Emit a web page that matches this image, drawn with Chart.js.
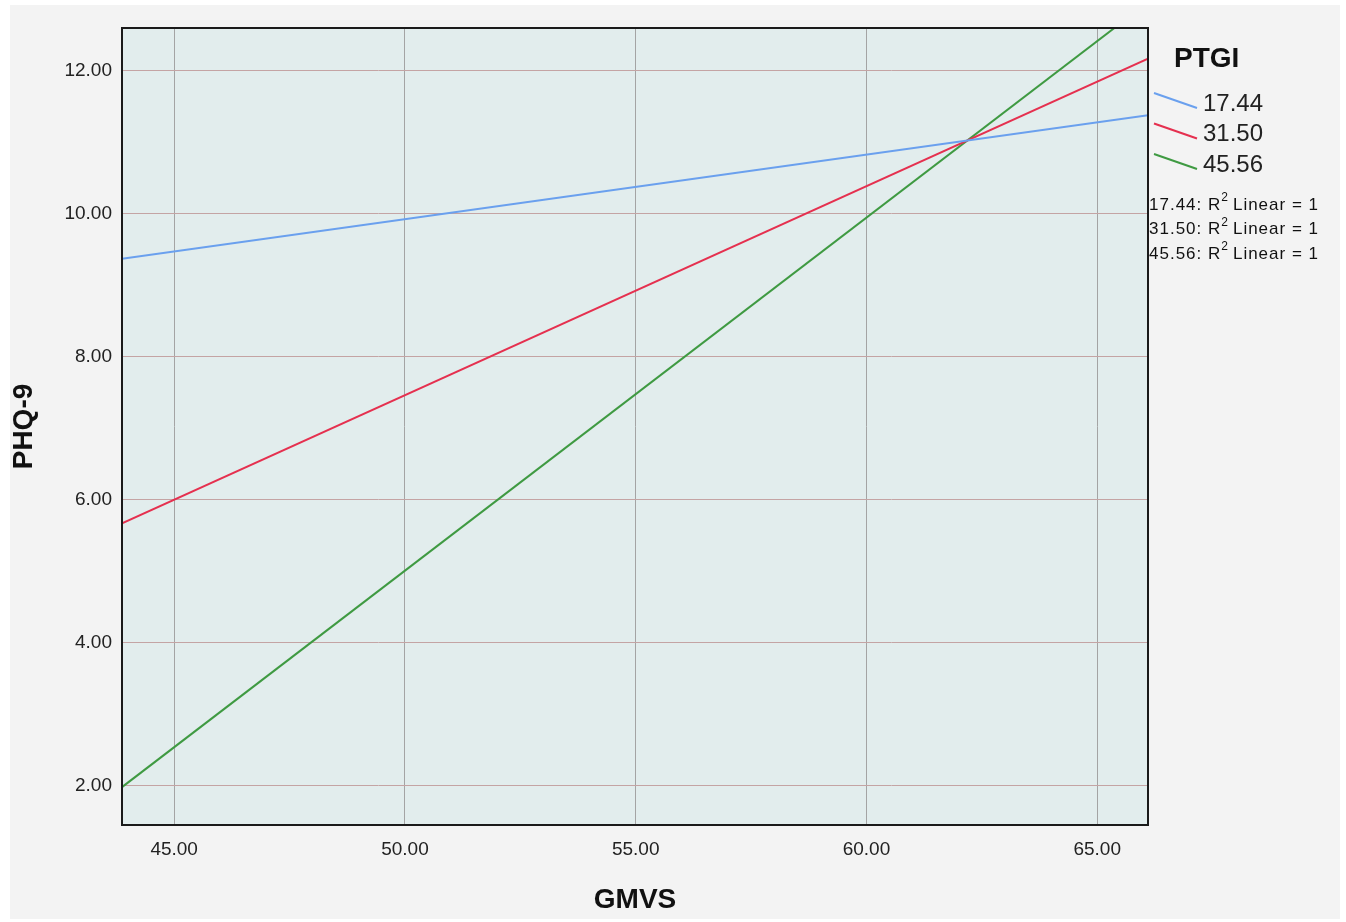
<!DOCTYPE html>
<html>
<head>
<meta charset="utf-8">
<title>PHQ-9 by GMVS and PTGI</title>
<script src="https://cdn.jsdelivr.net/npm/chart.js@4"></script>
<style>
  body { margin: 0; background: #ffffff; }
  #chart { display: block; }
</style>
</head>
<body>
<canvas id="chart" width="1346" height="922"></canvas>
<script>
// data
const ptgiLevels = ['17.44', '31.50', '45.56'];
const gmvsEnds = [43.87, 66.1];
const phqAtStart = [9.37, 5.67, 1.98];
const phqAtEnd = [11.38, 12.17, 12.96];
const xTickValues = [45, 50, 55, 60, 65];
const yTickValues = [2, 4, 6, 8, 10, 12];
const lineColors = ['#6aa0ee', '#e5304f', '#3f9a42'];

const FONT = '"Liberation Sans", Arial, sans-serif';

const datasets = ptgiLevels.map((lvl, i) => ({
  label: lvl,
  data: [{x: gmvsEnds[0], y: phqAtStart[i]}, {x: gmvsEnds[1], y: phqAtEnd[i]}],
  borderColor: lineColors[i],
  borderWidth: 2,
  pointRadius: 0,
  showLine: true,
  fill: false
}));

// background panel + plot area fill
const panelPlugin = {
  id: 'panel',
  beforeDraw(chart) {
    const ctx = chart.ctx, a = chart.chartArea;
    ctx.save();
    ctx.fillStyle = '#ffffff';
    ctx.fillRect(0, 0, chart.width, chart.height);
    ctx.fillStyle = '#f3f3f3';
    ctx.fillRect(10, 5, 1330, 914);
    ctx.fillStyle = '#e2eded';
    ctx.fillRect(a.left, a.top, a.right - a.left, a.bottom - a.top);
    ctx.restore();
  },
  afterDraw(chart) {
    const ctx = chart.ctx, a = chart.chartArea;
    ctx.save();
    ctx.strokeStyle = '#1a1a1a';
    ctx.lineWidth = 2;
    ctx.strokeRect(a.left, a.top, a.right - a.left, a.bottom - a.top);
    ctx.restore();
  }
};

// SPSS style legend on the right
const legendPlugin = {
  id: 'sideLegend',
  afterDraw(chart) {
    const ctx = chart.ctx;
    ctx.save();
    ctx.fillStyle = '#111';
    ctx.textBaseline = 'middle';
    ctx.font = 'bold 28px ' + FONT;
    ctx.fillText('PTGI', 1174, 59);

    ptgiLevels.forEach((lvl, i) => {
      const y = 103 + i * 30.5;
      ctx.strokeStyle = lineColors[i];
      ctx.lineWidth = 2;
      ctx.beginPath();
      ctx.moveTo(1154, y - 10);
      ctx.lineTo(1197, y + 5);
      ctx.stroke();
      ctx.fillStyle = '#222';
      ctx.font = '24px ' + FONT;
      ctx.fillText(lvl, 1203, y + 1);
    });

    ptgiLevels.forEach((lvl, i) => {
      const y = 205 + i * 24.5;
      let x = 1149;
      ctx.fillStyle = '#111';
      ctx.letterSpacing = '1px';
      ctx.font = '17px ' + FONT;
      const head = lvl + ': R';
      ctx.fillText(head, x, y);
      x += ctx.measureText(head).width;
      ctx.font = '12px ' + FONT;
      ctx.fillText('2', x, y - 7);
      x += ctx.measureText('2').width + 4;
      ctx.font = '17px ' + FONT;
      ctx.fillText('Linear = 1', x, y);
    });
    ctx.restore();
  }
};

new Chart(document.getElementById('chart'), {
  type: 'scatter',
  data: { datasets: datasets },
  plugins: [panelPlugin, legendPlugin],
  options: {
    responsive: false,
    animation: false,
    layout: { padding: { left: 0, right: 198, top: 28, bottom: 0 } },
    plugins: { legend: { display: false }, tooltip: { enabled: false } },
    scales: {
      x: {
        type: 'linear',
        min: gmvsEnds[0],
        max: gmvsEnds[1],
        afterBuildTicks: s => { s.ticks = xTickValues.map(v => ({value: v})); },
        afterFit: s => { s.height = 97; },
        border: { display: false },
        grid: { color: '#a4a4a4', lineWidth: 1, drawTicks: false, borderDash: [2, 1] },
        ticks: {
          padding: 13,
          color: '#222',
          font: { family: FONT, size: 19 },
          callback: v => Number(v).toFixed(2)
        },
        title: {
          display: true,
          text: 'GMVS',
          color: '#111',
          font: { family: FONT, size: 28, weight: 'bold' },
          padding: { top: 0, bottom: 5 }
        }
      },
      y: {
        type: 'linear',
        min: 1.45,
        max: 12.6,
        afterBuildTicks: s => { s.ticks = yTickValues.map(v => ({value: v})); },
        afterFit: s => { s.width = 122; },
        border: { display: false },
        grid: { color: '#c4a4a4', lineWidth: 1, drawTicks: false, borderDash: [2, 1] },
        ticks: {
          padding: 10,
          color: '#222',
          font: { family: FONT, size: 19 },
          callback: v => Number(v).toFixed(2)
        },
        title: {
          display: true,
          text: 'PHQ-9',
          color: '#111',
          font: { family: FONT, size: 28, weight: 'bold' },
          padding: { top: 7, bottom: 0 }
        }
      }
    }
  }
});
</script>
</body>
</html>
